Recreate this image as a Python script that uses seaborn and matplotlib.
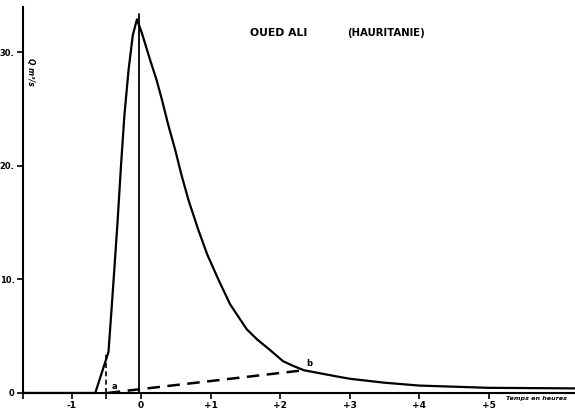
import pandas as pd
import matplotlib.pyplot as plt
import seaborn as sns

# Hydrograph of the Oued Ali flood
hydro_t = [-1.70, -0.66, -0.47, -0.43, -0.39, -0.34, -0.29, -0.24, -0.18, -0.12,
           -0.06, 0.01, 0.13, 0.22, 0.30, 0.39, 0.49, 0.58, 0.68, 0.82, 0.95,
           1.11, 1.28, 1.52, 1.67, 1.85, 2.04, 2.18, 2.34, 2.86, 3.0, 3.5,
           4.0, 5.0, 6.3]
hydro_q = [0, 0, 3.6, 7.0, 10.5, 15.0, 20.0, 24.5, 28.5, 31.5,
           32.9, 31.7, 29.3, 27.6, 25.8, 23.6, 21.4, 19.2, 17.0, 14.4, 12.2,
           10.0, 7.8, 5.6, 4.7, 3.8, 2.8, 2.4, 2.0, 1.4, 1.25, 0.9,
           0.65, 0.45, 0.4]

# base flow separation a -> b
sep_t = [-0.48, 2.34]
sep_q = [0.0, 2.0]

x_ticks = [-1.7, -1, -0.5, 0, 1, 2, 3, 4, 5]
x_labels = ["", "-1", "", "0", "+1", "+2", "+3", "+4", "+5"]
y_ticks = [0, 10, 20, 30]
y_labels = ["0", "10.", "20.", "30."]

df = pd.DataFrame({"t": hydro_t, "q": hydro_q})

sns.set_theme(style="ticks")
plt.rcParams["font.family"] = ["DejaVu Sans"]
plt.rcParams["text.color"] = "black"

fig = plt.figure(figsize=(5.75, 4.16), dpi=100)
ax = fig.add_axes([0, 0, 1, 1])

sns.lineplot(data=df, x="t", y="q", sort=False, estimator=None,
             color="black", linewidth=1.6, ax=ax)

# separation line and verticals
ax.plot(sep_t, sep_q, color="black", linewidth=1.8, dashes=(5, 3))
ax.plot([-0.5, -0.5], [0, 3.6], color="black", linewidth=1.2, dashes=(3, 2))
ax.plot([-0.03, -0.03], [0, 33.4], color="black", linewidth=1.3)

ax.set_xlim(-2.03, 6.24)
ax.set_ylim(-2.03, 34.6)

for s in ["top", "right"]:
    ax.spines[s].set_visible(False)
ax.spines["left"].set_position(("data", -1.7))
ax.spines["bottom"].set_position(("data", 0))
ax.spines["left"].set_bounds(0, 34)
ax.spines["bottom"].set_bounds(-1.7, 6.24)
for s in ["left", "bottom"]:
    ax.spines[s].set_linewidth(1.5)
    ax.spines[s].set_color("black")

ax.set_xticks(x_ticks)
ax.set_xticklabels(x_labels, fontsize=6.5, fontweight="bold")
ax.set_yticks(y_ticks)
ax.set_yticklabels(y_labels, fontsize=6, fontweight="bold")
ax.tick_params(axis="both", direction="out", length=4, width=1.2, pad=2,
               colors="black")
ax.set_xlabel("")
ax.set_ylabel("")

ax.text(250 / 575, 0.92, "OUED ALI", transform=ax.transAxes, fontsize=7.8,
        fontweight="bold", ha="left", va="center")
ax.text(347 / 575, 0.92, "(HAURITANIE)", transform=ax.transAxes, fontsize=7.3,
        fontweight="bold", ha="left", va="center")
ax.text(-1.59, 28.3, "Q m³/s", rotation=-90, fontsize=5.5, fontweight="bold",
        style="italic", ha="center", va="center")
ax.text(5.25, -0.3, "Temps en heures", fontsize=4.6, fontweight="bold",
        style="italic", ha="left", va="top")
ax.text(-0.42, 0.35, "a", fontsize=6, fontweight="bold")
ax.text(2.38, 2.35, "b", fontsize=6, fontweight="bold")

fig.savefig("out.png", dpi=100, facecolor="white")
plt.close(fig)
